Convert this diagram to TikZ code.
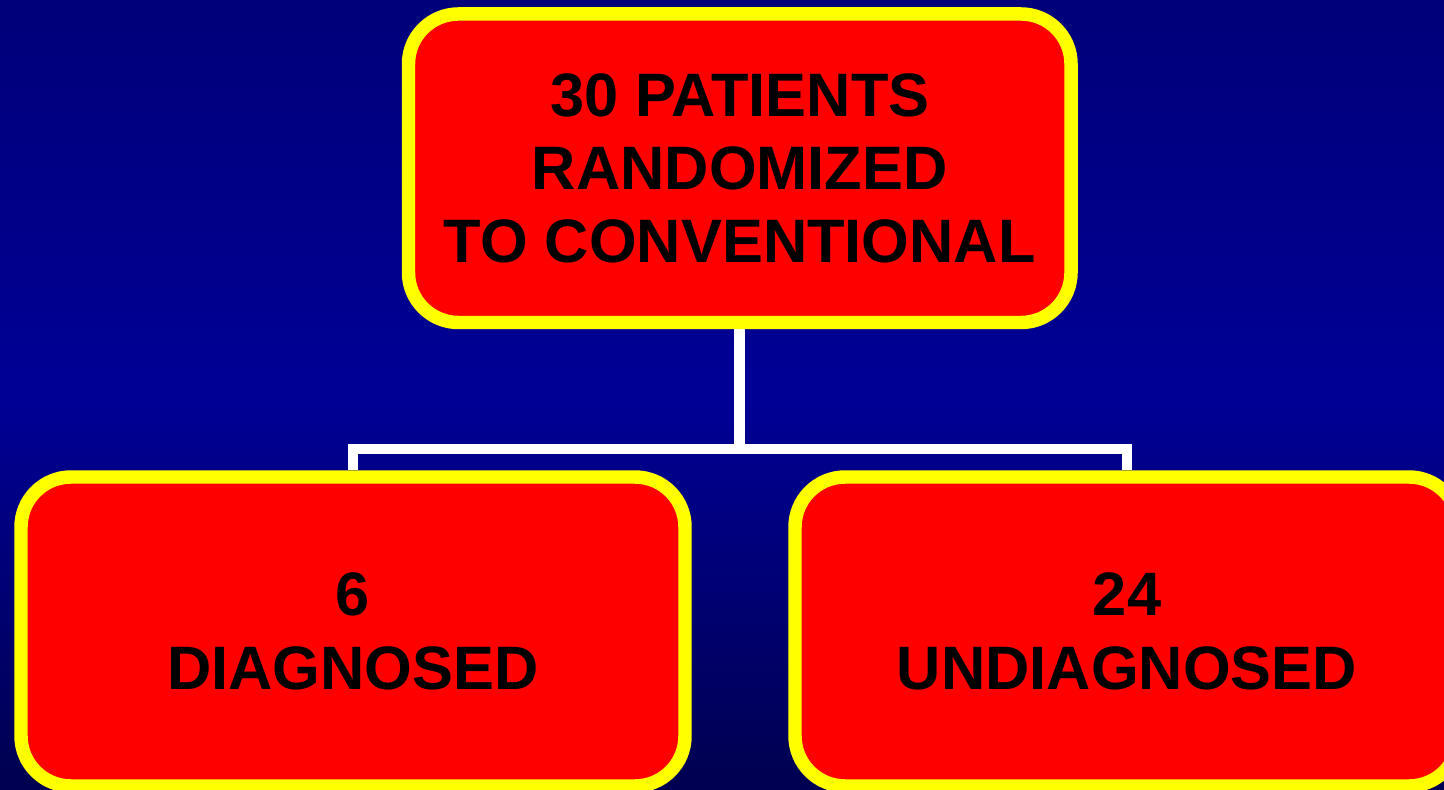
\documentclass[tikz,border=0pt]{standalone}
\usepackage{fontspec}
\setmainfont{Liberation Sans}
\usetikzlibrary{backgrounds}
\definecolor{boxred}{RGB}{255,0,0}
\definecolor{boxyellow}{RGB}{255,255,0}
\tikzset{
  redbox/.style={draw=boxyellow, fill=boxred, line width=10.1pt,
    rounded corners=37.5pt, inner sep=0pt, align=center, text=black,
    font=\fontsize{46}{55}\selectfont\bfseries},
  link/.style={draw=white, line width=7.9pt, line join=miter}
}
\begin{document}
\begin{tikzpicture}[x=0.75pt,y=0.75pt]
\clip (0,0) rectangle (1444,789);
\useasboundingbox (0,0) rectangle (1444,789);
\node[redbox, minimum width=496.9pt, minimum height=231.4pt] (top) at (739.75,620.75)
  {30 PATIENTS\\RANDOMIZED\\TO CONVENTIONAL};
\node[redbox, minimum width=498pt, minimum height=231.75pt] (diag) at (353,157.5)
  {6\\DIAGNOSED};
\node[redbox, minimum width=498pt, minimum height=231.75pt] (undiag) at (1127,157.5)
  {24\\UNDIAGNOSED};
\coordinate (joint) at (739.75,340);
\begin{pgfonlayer}{background}
\foreach \i in {0,...,98}{
  \pgfmathsetmacro{\yp}{\i*8+4}
  \pgfmathtruncatemacro{\bl}{\yp<400 ? 122+\yp/400*28 : 150-(\yp-400)/389*70}
  \fill[color={rgb,255:red,0;green,0;blue,\bl}] (0,{789-\i*8}) rectangle (1444,{789-\i*8-8.6});
}
\draw[link] (top.south) -- (joint);
\draw[link] (diag.north) |- (joint) -| (undiag.north);
\end{pgfonlayer}
\end{tikzpicture}
\end{document}
